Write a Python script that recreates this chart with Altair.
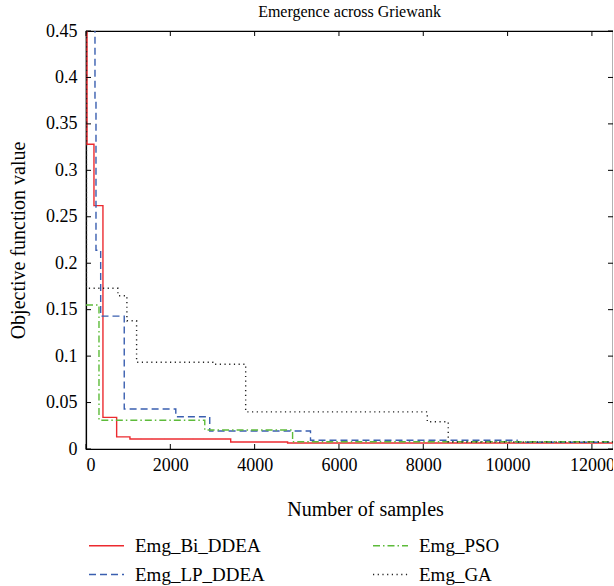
import altair as alt
import pandas as pd

# ---- data ----
series_names = ["Emg_Bi_DDEA", "Emg_LP_DDEA", "Emg_PSO", "Emg_GA"]

bi_x = [0, 24, 189, 402, 727, 1042, 3432, 4782, 12500]
bi_y = [0.60, 0.328, 0.262, 0.034, 0.013, 0.0107, 0.0075, 0.0064, 0.0064]

lp_x = [0, 213, 237, 348, 907, 2130, 2935, 5325, 10225, 12500]
lp_y = [0.60, 0.375, 0.214, 0.143, 0.043, 0.0347, 0.0193, 0.0095, 0.0072, 0.0072]

pso_x = [0, 308, 2817, 4900, 12500]
pso_y = [0.155, 0.031, 0.0205, 0.0078, 0.0078]

ga_x = [0, 10, 757, 970, 1200, 3006, 3787, 8095, 8592, 12500]
ga_y = [0.60, 0.173, 0.165, 0.138, 0.0934, 0.0913, 0.040, 0.0293, 0.0075, 0.0075]

x_ticks = [0, 2000, 4000, 6000, 8000, 10000, 12000]
y_ticks = [0, 0.05, 0.1, 0.15, 0.2, 0.25, 0.3, 0.35, 0.4, 0.45]

colors = ["#ec2a2f", "#3a5fb0", "#5dbb3a", "#222222"]
dashes = [[1, 0], [7, 4], [7, 3, 1.5, 3], [1.2, 3.5]]

W, H = 527, 418
FONT = "Liberation Serif"

rows = []
for name, xs, ys in [("Emg_Bi_DDEA", bi_x, bi_y), ("Emg_LP_DDEA", lp_x, lp_y),
                     ("Emg_PSO", pso_x, pso_y), ("Emg_GA", ga_x, ga_y)]:
    for i, (a, b) in enumerate(zip(xs, ys)):
        rows.append({"series": name, "x": a, "y": b, "order": i})
df = pd.DataFrame(rows)

xscale = alt.Scale(domain=[0, 12500], nice=False, zero=False)
yscale = alt.Scale(domain=[0, 0.45], nice=False)

axis_common = dict(tickSize=0, grid=False, labelFont=FONT, titleFont=FONT,
                   labelFontSize=18, titleFontSize=20, titleFontWeight="normal",
                   labelColor="black", titleColor="black",
                   domainColor="black", domainWidth=1.2)

lines = alt.Chart(df).mark_line(interpolate="step-after", strokeWidth=1.4, clip=True).encode(
    x=alt.X("x:Q", scale=xscale,
            axis=alt.Axis(values=x_ticks, title="Number of samples",
                          labelPadding=7, titlePadding=25, titleX=279,
                          format="d", **axis_common)),
    y=alt.Y("y:Q", scale=yscale,
            axis=alt.Axis(values=y_ticks, title="Objective function value",
                          labelPadding=9, titlePadding=17, format="~g", **axis_common)),
    color=alt.Color("series:N", scale=alt.Scale(domain=series_names, range=colors),
                    legend=alt.Legend(title=None, orient="none", legendX=2, legendY=496,
                                      columns=2, columnPadding=105, rowPadding=-14,
                                      symbolType="stroke", symbolSize=1225,
                                      symbolStrokeWidth=1.5, labelFontSize=19,
                                      labelFont=FONT, labelColor="black", labelOffset=10)),
    strokeDash=alt.StrokeDash("series:N", scale=alt.Scale(domain=series_names, range=dashes),
                              legend=None),
    order="order:Q",
)

xt = pd.DataFrame({"x": x_ticks})
yt = pd.DataFrame({"y": y_ticks})
tick_bottom = alt.Chart(xt).mark_rule(color="black").encode(
    x=alt.X("x:Q", scale=xscale), y=alt.value(H), y2=alt.value(H - 5))
tick_top = alt.Chart(xt).mark_rule(color="black").encode(
    x=alt.X("x:Q", scale=xscale), y=alt.value(0), y2=alt.value(5))
tick_left = alt.Chart(yt).mark_rule(color="black").encode(
    y=alt.Y("y:Q", scale=yscale), x=alt.value(0), x2=alt.value(5))
tick_right = alt.Chart(yt).mark_rule(color="black").encode(
    y=alt.Y("y:Q", scale=yscale), x=alt.value(W), x2=alt.value(W - 5))

chart = alt.layer(lines, tick_bottom, tick_top, tick_left, tick_right).properties(
    width=W, height=H,
    background="white",
    title=alt.TitleParams("Emergence across Griewank", font=FONT, fontSize=16,
                          fontWeight="normal", offset=2, color="black"),
    autosize=alt.AutoSizeParams(type="none"),
    padding={"left": 86, "top": 31, "right": 0, "bottom": 137},
).configure_view(stroke="black", strokeWidth=1.2).configure_title(
    font=FONT, fontSize=16, fontWeight="normal", color="black")

chart.save("out.html", embed_options={"renderer": "svg", "actions": False})
